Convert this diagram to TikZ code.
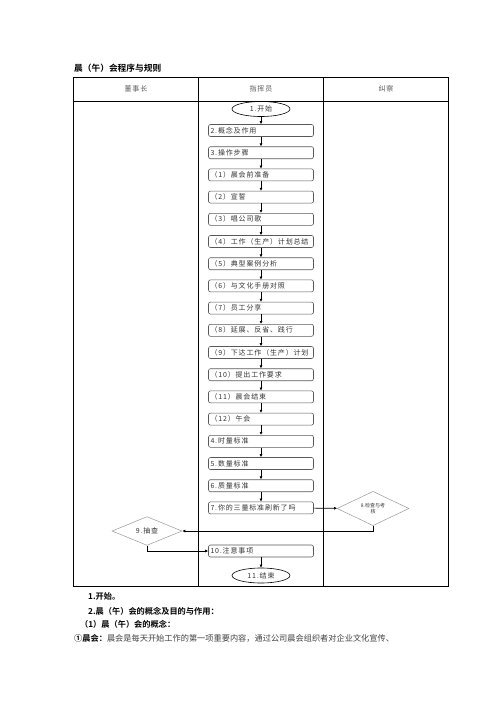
\documentclass[tikz,border=0pt]{standalone}
\usepackage{fontspec}
\setmainfont{Noto Sans CJK SC}[BoldFont={Noto Sans CJK SC Bold}]
\newfontfamily\boxfont{Noto Sans CJK SC}[LetterSpace=12]
\usetikzlibrary{shapes.geometric,arrows.meta}
\begin{document}
\begin{tikzpicture}[x=1pt,y=-1pt,
  proc/.style={draw=black!65, line width=0.6pt, rounded corners=2pt, minimum height=12pt,
    text width=101pt, inner xsep=2pt, inner ysep=0pt, align=left,
    font=\boxfont\fontsize{7}{8}\selectfont, text=black!80},
  term/.style={ellipse, draw=black, line width=0.6pt, minimum width=58pt, minimum height=15pt,
    inner sep=0pt, font=\boxfont\fontsize{7}{8}\selectfont, text=black!80},
  dec/.style={diamond, draw=black!40, line width=0.5pt, minimum width=72pt, minimum height=27pt,
    inner sep=0pt, align=center, text=black!80},
  flow/.style={-{Latex[length=3pt,width=3pt]}, line width=0.6pt},
  tbl/.style={line width=0.8pt},
  hdr/.style={font=\boxfont\fontsize{7}{8}\selectfont, text=black!65},
  para/.style={anchor=west, inner sep=0pt, font=\fontsize{8.2}{9}\selectfont}]
\useasboundingbox (0,0) rectangle (496,702);
% title
\node[para, font=\fontsize{8.7}{10}\selectfont\bfseries] (title) at (74,68) {晨（午）会程序与规则};
% table
\draw[tbl] (73,77) rectangle (448,586);
\draw[tbl] (73,101) -- (448,101);
\draw[tbl] (198,77) -- (198,586);
\draw[tbl] (323,77) -- (323,586);
\node[hdr] (h1) at (136,89) {董事长};
\node[hdr] (h2) at (261,89) {指挥员};
\node[hdr] (h3) at (386,89) {纠察};
% flow
\node[term] (e1) at (261,109) {1.开始};
\foreach \t [count=\k from 0] in {{2.概念及作用},{3.操作步骤},{（1）晨会前准备},{（2）宣誓},{（3）唱公司歌},{（4）工作（生产）计划总结},{（5）典型案例分析},{（6）与文化手册对照},{（7）员工分享},{（8）延展、反省、践行},{（9）下达工作（生产）计划},{（10）提出工作要求},{（11）晨会结束},{（12）午会},{4.时量标准},{5.数量标准},{6.质量标准},{7.你的三量标准刷新了吗}}
  \node[proc] (n\k) at (261,130.5+22.2*\k) {\t};
\draw[flow] (e1) -- (n0);
\foreach \i [evaluate=\i as \j using int(\i+1)] in {0,...,16}
  \draw[flow] (n\i) -- (n\j);
\node[dec, font=\fontsize{5}{5.5}\selectfont] (d8) at (373,508.5) {8.检查与考\\核};
\node[dec, minimum width=70pt, minimum height=26pt, font=\boxfont\fontsize{7}{8}\selectfont] (d9) at (147,531) {9.抽查};
\node[proc] (b10) at (261,551) {10.注意事项};
\node[term] (e11) at (261,575.5) {11.结束};
\draw[flow] (n17) -- (d8);
\draw[flow] (d8.south) |- (d9.east);
\draw[flow] (d9.south) |- (b10.west);
\draw[flow] (b10) -- (e11);
% text below
\node[para, font=\fontsize{8.2}{9}\selectfont\bfseries] (t1) at (88,596) {1.开始。};
\node[para, font=\fontsize{8.2}{9}\selectfont\bfseries] (t2) at (88,611) {2.晨（午）会的概念及目的与作用：};
\node[para, font=\fontsize{8.2}{9}\selectfont\bfseries] (t3) at (80,624) {（1）晨（午）会的概念：};
\node[para] (t4) at (74,638) {\textbf{①晨会：}\textcolor{black!75}{晨会是每天开始工作的第一项重要内容，通过公司晨会组织者对企业文化宣传、}};
\end{tikzpicture}
\end{document}
